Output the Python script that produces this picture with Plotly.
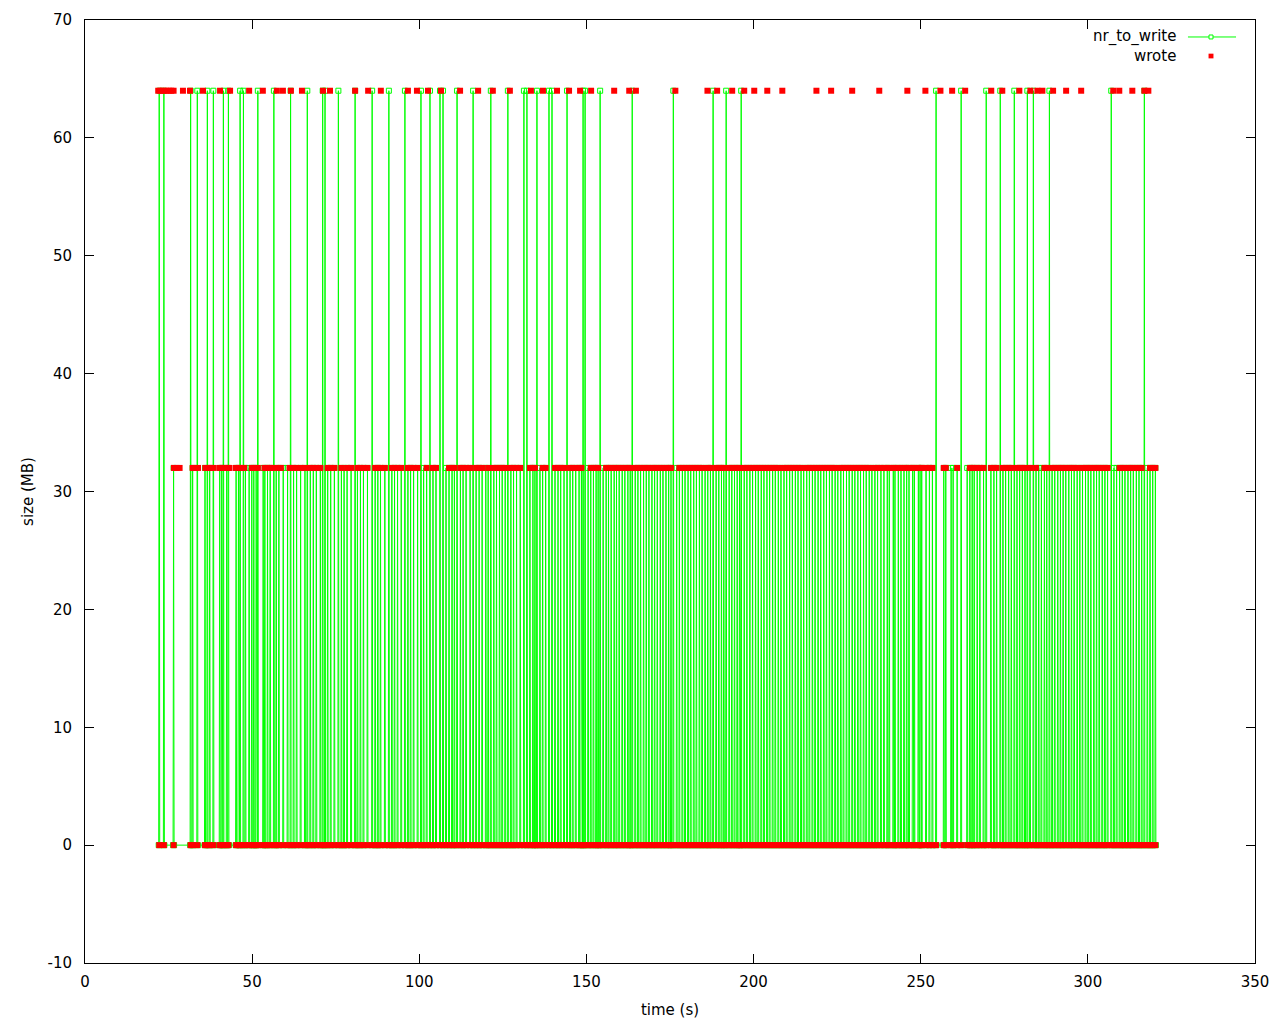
import plotly.graph_objects as go

# ---------------- data ----------------
# times (s) of nr_to_write spikes reaching 64 MB
nr_64_t = [22.2, 23.6, 31.6, 33.6, 36.6, 38.4, 41.4, 42.9, 46.4, 47.4, 51.7, 56.5,
           61.5, 66.5, 71.1, 71.8, 75.8, 80.8, 85.9, 90.9, 95.7, 100.5, 103.2, 106.2,
           107.1, 111.3, 116.1, 121.4, 126.5, 131.3, 132.2, 135.2, 138.8, 139.7, 144.2,
           149.0, 149.6, 154.1, 163.7, 176.0, 187.9, 191.8, 196.3, 254.6, 262.1, 269.6,
           273.8, 278.0, 281.9, 283.7, 288.5, 307.0, 316.9]

# times (s) of nr_to_write spikes reaching 32 MB
nr_32_t = [26.5, 32.2, 35.9, 37.3, 40.3, 40.9, 42.4, 45.2, 45.9, 48.0, 49.1, 49.9, 50.5,
           51.2, 53.3, 53.8,
           54.6, 55.4, 57.2, 58.0, 59.3, 60.6, 62.4, 63.3, 64.5, 65.8, 67.4, 68.3, 69.2,
           70.4, 72.6, 73.5, 74.6, 76.7, 77.5, 78.4, 79.6, 81.5, 82.4, 83.3, 84.5, 86.8,
           87.6, 88.4, 89.7, 91.8, 92.6, 93.5, 94.6, 96.6, 97.4, 98.3, 99.5, 101.3, 102.2,
           104.1, 105.0, 108.0, 108.9, 109.8, 110.5, 112.3, 113.1, 114.0, 115.2, 117.0,
           117.9, 118.8, 119.9,
           120.6, 122.3, 123.1, 124.0, 124.8, 125.7, 127.4, 128.2, 129.1, 130.2, 133.1,
           134.0, 134.6, 136.1, 136.9, 137.8, 140.6, 141.5, 142.3, 143.3, 145.1, 145.9,
           146.8, 147.8, 148.5, 150.5, 151.3, 152.1, 152.9, 153.5, 155.0, 155.9, 156.6,
           157.4, 158.3, 159.0, 159.8, 160.7, 161.5, 162.4, 163.1, 164.6, 165.4, 166.2,
           167.1, 167.9, 168.7, 169.6, 170.4, 171.2, 172.1, 172.9, 173.8, 174.6, 175.3,
           177.0, 177.8, 178.7, 179.5, 180.4, 181.2, 182.1, 182.9, 183.8, 184.6, 185.5,
           186.3, 187.1, 188.8, 189.6, 190.4, 191.1, 192.7, 193.5, 194.3, 195.1, 195.8,
           197.2, 198.0, 198.9, 199.7, 200.6, 201.4, 202.3, 203.1, 204.0, 204.8, 205.7,
           206.5, 207.4, 208.2, 209.1, 209.9, 210.8, 211.6, 212.5, 213.3, 214.2, 215.0,
           215.9, 216.7, 217.6, 218.4, 219.3, 220.1, 221.0, 221.8, 222.7, 223.5, 224.4,
           225.2, 226.1, 226.9, 227.8, 228.6, 229.5, 230.3, 231.2, 232.0, 232.9, 233.7,
           234.6, 235.4, 236.3, 237.1,
           238.1, 239.0, 240.0, 240.6, 241.8, 242.3, 243.3, 244.1, 245.0, 245.8, 246.5,
           247.6, 248.1, 249.3, 249.8, 250.3, 251.6, 252.6, 253.5, 256.9, 257.5, 259.1,
           259.7, 260.9, 263.9, 264.7, 265.4, 266.0, 266.9, 267.7, 268.8, 271.0, 271.9,
           272.7, 274.6, 275.4, 276.3, 277.1, 278.8, 279.6, 280.4, 281.2, 282.7, 284.5,
           285.3, 286.1, 287.0, 287.7, 289.3, 290.1, 291.0, 291.8, 292.6, 293.4, 294.3,
           295.1, 295.9, 296.8, 297.6, 298.4, 299.3, 300.1, 300.9, 301.8, 302.6, 303.4,
           304.3, 305.1, 305.9, 307.8, 308.6, 309.5, 310.3, 311.1, 312.0, 312.8, 313.6,
           314.5, 315.3, 316.1, 317.8, 318.6, 319.4, 320.2]

# times (s) where "wrote" = 64 MB
wrote_64_t = [21.9, 22.6, 23.4, 24.2, 25.0, 25.8, 26.5, 29.3, 31.4, 35.3, 40.4, 43.4,
              49.1, 53.2, 57.4, 59.2, 61.6, 64.9, 71.2, 73.3, 80.8, 84.7, 88.5, 96.6,
              99.3, 102.6, 106.5, 112.2, 117.6, 122.0, 127.1, 133.4, 137.0, 141.2, 144.8,
              148.1, 151.4, 158.3, 162.8, 164.8, 176.6, 186.2, 189.1, 193.6, 197.2, 200.2,
              204.1, 208.6, 218.8, 223.2, 229.5, 237.6, 246.0, 251.4, 255.9, 259.4, 263.3,
              271.1, 274.4, 279.5, 282.8, 284.9, 286.4, 289.6, 293.5, 298.0, 307.6, 309.4,
              313.3, 316.9, 318.1]

# times (s) where "wrote" = 32 MB in the first minute
wrote_32_early_t = [26.6, 27.4, 28.3, 32.2, 33.0, 33.8, 36.0, 36.9, 37.7, 38.5, 40.3,
                    41.1, 41.9, 42.7, 43.2, 45.1, 45.9, 46.8, 47.6, 49.9, 50.7, 51.7,
                    53.7, 54.5, 55.4, 56.0, 57.6, 58.6, 61.2, 62.1, 63.0]

# intervals (s) after the first minute with no "wrote" = 32 MB points
wrote_32_gaps = [(77.5, 78.0), (82.6, 83.0), (95.5, 96.0), (101.2, 101.6), (107.8, 108.2),
                 (119.7, 120.0), (135.9, 136.2), (150.3, 150.6), (154.9, 155.2),
                 (176.7, 177.1), (185.3, 185.6), (191.6, 192.0), (207.8, 208.3),
                 (214.6, 215.1), (224.8, 225.3), (235.2, 235.6), (255.5, 256.4),
                 (258.7, 259.8), (262.9, 263.9), (284.8, 286.3), (297.0, 298.0),
                 (307.8, 309.0), (316.5, 318.0)]

x_ticks = [0, 50, 100, 150, 200, 250, 300, 350]
y_ticks = [-10, 0, 10, 20, 30, 40, 50, 60, 70]
y_tick_labels = ["-10", "0", "10", "20", "30", "40", "50", "60", "70"]

# ---------------- build the series ----------------
spikes = sorted([(t, 64) for t in nr_64_t] + [(t, 32) for t in nr_32_t])
g_x, g_y = [], []
for t, v in spikes:
    g_x += [t - 0.15, t, t + 0.15]
    g_y += [0, v, 0]

wrote_32_t = wrote_32_early_t + [
    t for t in nr_32_t
    if t > 64 and not any(a <= t <= b for a, b in wrote_32_gaps)
]
w_x = [t for t, _ in spikes] + wrote_32_t + wrote_64_t
w_y = [0] * len(spikes) + [32] * len(wrote_32_t) + [64] * len(wrote_64_t)

GREEN = "#00ff00"
RED = "#ff0000"
FONT = "DejaVu Sans"

fig = go.Figure()
fig.add_trace(go.Scatter(
    x=g_x, y=g_y, mode="lines+markers", name="nr_to_write",
    line=dict(color=GREEN, width=1),
    marker=dict(symbol="square-open", size=5, color=GREEN, line=dict(width=1, color=GREEN)),
    showlegend=False,
))
fig.add_trace(go.Scatter(
    x=w_x, y=w_y, mode="markers", name="wrote",
    marker=dict(symbol="square", size=6, color=RED, line=dict(width=0)),
    showlegend=False,
))

# gnuplot-style key (text right, sample left)
fig.add_annotation(xref="paper", yref="paper", x=0.9342, y=0.982, text="nr_to_write",
                   showarrow=False, xanchor="right", yanchor="middle",
                   font=dict(family=FONT, size=15, color="black"))
fig.add_annotation(xref="paper", yref="paper", x=0.9342, y=0.9618, text="wrote",
                   showarrow=False, xanchor="right", yanchor="middle",
                   font=dict(family=FONT, size=15, color="black"))
fig.add_shape(type="line", xref="paper", yref="paper", x0=0.9427, x1=0.9838,
              y0=0.982, y1=0.982, line=dict(color=GREEN, width=1))
fig.add_shape(type="rect", xref="paper", yref="paper", x0=0.9607, x1=0.9641,
              y0=0.9799, y1=0.9841, line=dict(color=GREEN, width=1), fillcolor="white")
fig.add_shape(type="rect", xref="paper", yref="paper", x0=0.9603, x1=0.9645,
              y0=0.9593, y1=0.9643, line=dict(width=0), fillcolor=RED)

axis_common = dict(
    showline=True, linecolor="black", linewidth=1, mirror="ticks",
    ticks="inside", ticklen=9, tickcolor="black", tickwidth=1,
    showgrid=False, zeroline=False,
    tickfont=dict(family=FONT, size=15, color="black"),
)
fig.update_xaxes(range=[0, 350], tickmode="array", tickvals=x_ticks,
                 ticktext=[str(v) for v in x_ticks],
                 title=dict(text="time (s)", font=dict(family=FONT, size=15, color="black"),
                            standoff=14),
                 ticklabelstandoff=5, **axis_common)
fig.update_yaxes(range=[-10, 70], tickmode="array", tickvals=y_ticks,
                 ticktext=y_tick_labels,
                 title=dict(text="size (MB)", font=dict(family=FONT, size=15, color="black"),
                            standoff=10),
                 ticklabelstandoff=9, **axis_common)

fig.update_layout(
    width=1280, height=1024,
    margin=dict(l=85, r=25, t=20, b=61, autoexpand=False),
    paper_bgcolor="white", plot_bgcolor="white",
    font=dict(family=FONT, size=15, color="black"),
)

fig.write_html("out.html",
               config={"displayModeBar": False},
               post_script="document.body.style.margin='0';"
                           "document.body.style.overflow='hidden';")
